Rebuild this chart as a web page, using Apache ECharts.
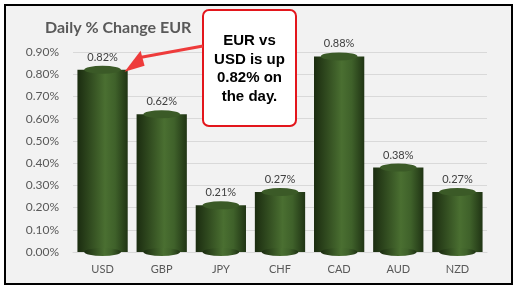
<!DOCTYPE html>
<html>
<head>
<meta charset="utf-8">
<script src="https://cdn.jsdelivr.net/npm/echarts@6/dist/echarts.min.js"></script>
<style>
  html, body { margin: 0; padding: 0; background: #fff; }
  #chart {
    position: absolute; left: 4px; top: 4px;
    width: 505px; height: 277px;
    border: 2px solid #000; background: #f2f2f2;
  }
</style>
</head>
<body>
<div id="chart"></div>
<script>
const currencies = ["USD", "GBP", "JPY", "CHF", "CAD", "AUD", "NZD"];
const changes = [0.82, 0.62, 0.21, 0.27, 0.88, 0.38, 0.27];
const calloutLines = ["EUR vs", "USD is up", "0.82% on", "the day."];

const chartDom = document.getElementById("chart");
const myChart = echarts.init(chartDom);

// horizontal shading so the bars look like cylinders
const barGradient = new echarts.graphic.LinearGradient(0, 0, 1, 0, [
  { offset: 0, color: "#1b2c10" },
  { offset: 0.55, color: "#4a6f31" },
  { offset: 0.75, color: "#3f612a" },
  { offset: 1, color: "#203414" },
]);

const option = {
  animation: false,
  title: {
    text: "Daily % Change EUR",
    left: 34,
    top: 9,
    textStyle: { fontFamily: "Lato", fontWeight: "bold", fontSize: 16, color: "#595959" },
  },
  grid: { left: 67, right: 24, top: 46, bottom: 31 },
  xAxis: {
    type: "category",
    data: currencies,
    axisLine: { show: true, lineStyle: { color: "#d9d9d9" } },
    axisTick: { show: false },
    axisLabel: { color: "#595959", fontSize: 11, fontFamily: "Lato", margin: 12 },
  },
  yAxis: {
    type: "value",
    min: 0,
    max: 0.9,
    interval: 0.1,
    axisLabel: {
      color: "#595959", fontSize: 12, fontFamily: "Lato", margin: 14,
      formatter: (v) => v.toFixed(2) + "%",
    },
    splitLine: { lineStyle: { color: "#d9d9d9" } },
  },
  series: [
    {
      type: "bar",
      data: changes,
      barWidth: "85%",
      itemStyle: { color: barGradient },
      label: {
        show: true, position: "top", distance: 7,
        color: "#404040", fontSize: 11, fontFamily: "Lato",
        formatter: (p) => p.value.toFixed(2) + "%",
      },
      z: 2,
    },
    {
      type: "pictorialBar",
      data: changes,
      symbol: "circle",
      symbolSize: ["85%", 8],
      symbolPosition: "end",
      symbolOffset: [0, "-50%"],
      itemStyle: { color: "#3b5a27" },
      z: 3,
    },
    {
      type: "pictorialBar",
      data: changes,
      symbol: "circle",
      symbolSize: ["85%", 8],
      symbolPosition: "start",
      symbolOffset: [0, "50%"],
      itemStyle: { color: barGradient },
      z: 3,
    },
  ],
};

myChart.setOption(option);

// callout box and arrow to the USD bar top
const tip = myChart.convertToPixel({ seriesIndex: 0 }, [0, changes[0]]);
const boxX = 197, boxY = 4, boxW = 93, boxH = 116;
myChart.setOption({
  graphic: [
    {
      type: "rect",
      shape: { x: boxX, y: boxY, width: boxW, height: boxH, r: 6 },
      style: { fill: "#fff", stroke: "#e3161c", lineWidth: 2 },
      z: 10,
    },
    {
      type: "text",
      x: boxX + boxW / 2,
      y: boxY + 22,
      style: {
        text: calloutLines.join("\n"),
        fill: "#000",
        font: "bold 15px 'Liberation Sans', Arial",
        lineHeight: 18.5,
        align: "center",
        verticalAlign: "top",
      },
      z: 11,
    },
    {
      type: "line",
      shape: { x1: boxX, y1: boxY + 36, x2: tip[0] + 36, y2: tip[1] - 12 },
      style: { stroke: "#ee3b3b", lineWidth: 3 },
      z: 10,
    },
    {
      type: "polygon",
      shape: {
        points: [
          [tip[0] + 22, tip[1] + 2],
          [tip[0] + 38, tip[1] - 19],
          [tip[0] + 42, tip[1] - 4],
        ],
      },
      style: { fill: "#ee3b3b" },
      z: 10,
    },
  ],
});
</script>
</body>
</html>
